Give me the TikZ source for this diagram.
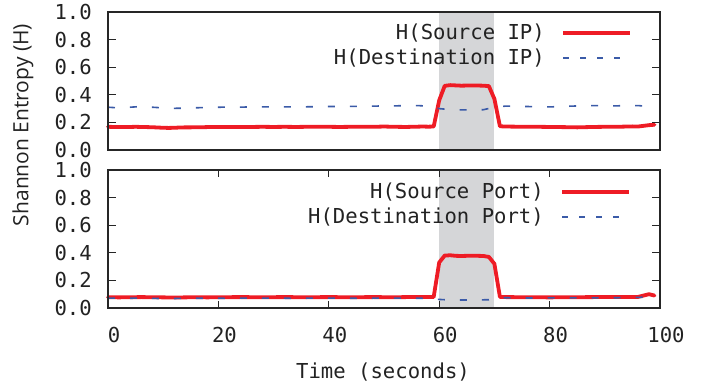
\documentclass[tikz,border=0pt]{standalone}
\usepackage{fontspec}
\setmonofont{DejaVu Sans Mono}
\newfontfamily\ylabfont{Open Sans}
\definecolor{redc}{HTML}{EE1C25}
\definecolor{bluec}{HTML}{3B5BA8}
\definecolor{shadec}{HTML}{D5D6D8}
\definecolor{framec}{HTML}{262626}
\definecolor{textc}{HTML}{222222}
\tikzset{
  boxframe/.style={draw=framec, line width=1.5pt},
  tickmark/.style={draw=framec, line width=0.9pt},
  srcline/.style={draw=redc, line width=3.8pt, line join=round, line cap=round},
  dstline/.style={draw=bluec, line width=1.6pt, dash pattern=on 7pt off 15pt},
  legdst/.style={draw=bluec, line width=1.6pt, dash pattern=on 6pt off 11pt},
  monotext/.style={text=textc, font=\ttfamily\fontsize{20.6}{22}\selectfont, inner sep=0pt},
  ticklab/.style={monotext, anchor=east},
  xticklab/.style={monotext, anchor=center},
  leglab/.style={monotext, anchor=east},
}
\begin{document}
\begin{tikzpicture}[x=1pt,y=1pt]
\useasboundingbox (0,0) rectangle (706,385);

% ---------- top panel ----------
\begin{scope}[shift={(108,235)}, x=5.52pt, y=138pt]
  \fill[shadec] (60,0) rectangle (70,1);
  \draw[srcline] plot coordinates {(0,.168)(1,.167)(2,.167)(3,.166)(4,.167)(5,.168)(6,.167)(7,.166)(8,.165)(9,.163)(10,.161)(11,.160)(12,.161)(13,.163)(14,.164)(15,.164)(16,.165)(17,.165)(18,.166)(19,.166)(20,.167)(22,.166)(24,.167)(26,.167)(28,.168)(30,.167)(32,.168)(34,.167)(36,.168)(38,.169)(40,.168)(42,.167)(44,.168)(46,.169)(48,.168)(50,.170)(52,.168)(54,.167)(56,.169)(57,.170)(58,.169)(59,.170)(60,.36)(61,.465)(62,.47)(63,.468)(64,.466)(65,.467)(66,.468)(67,.467)(68,.466)(69,.463)(70,.37)(71,.172)(72,.170)(74,.169)(76,.168)(78,.168)(80,.167)(82,.166)(84,.165)(85,.164)(86,.165)(88,.167)(90,.168)(92,.168)(94,.170)(95,.171)(96,.170)(97,.175)(98,.18)(99,.183)};
  \draw[dstline] plot coordinates {(0,.31)(2,.305)(4,.31)(6,.315)(8,.31)(10,.305)(12,.302)(14,.303)(16,.306)(18,.308)(20,.31)(24,.311)(28,.312)(32,.312)(36,.313)(40,.315)(44,.316)(48,.318)(52,.32)(56,.322)(58,.318)(60,.30)(62,.292)(66,.29)(68,.292)(70,.31)(72,.318)(76,.315)(80,.312)(84,.318)(88,.322)(92,.32)(96,.322)(98,.315)(99,.30)};
  \foreach \v in {0.2,0.4,0.6,0.8}{
    \draw[tickmark] (0,\v) -- ++(8pt,0);
    \draw[tickmark] (100,\v) -- ++(-8pt,0);
  }
  \foreach \v/\l in {0/0.0,0.2/0.2,0.4/0.4,0.6/0.6,0.8/0.8,1/1.0}{
    \node[ticklab] (ty\l) at ([xshift=-16pt]0,\v) {\l};
  }
  \draw[boxframe] (0,0) rectangle (100,1);
\end{scope}
\node[leglab] (legA) at (545,352) {H(Source IP)};
\coordinate (legAa) at (563,352);
\coordinate (legAb) at (630,352);
\draw[srcline, line cap=butt] (legAa) -- (legAb);
\node[leglab] (legB) at (545,327) {H(Destination IP)};
\coordinate (legBa) at (563,327);
\coordinate (legBb) at (630,327);
\draw[legdst] (legBa) -- (legBb);

% ---------- bottom panel ----------
\begin{scope}[shift={(108,77)}, x=5.52pt, y=138pt]
  \fill[shadec] (60,0) rectangle (70,1);
  \draw[srcline] plot coordinates {(0,.078)(2,.077)(4,.078)(6,.079)(8,.078)(10,.077)(12,.076)(14,.077)(16,.078)(18,.077)(20,.078)(24,.079)(28,.078)(32,.079)(36,.078)(40,.079)(44,.078)(48,.079)(52,.078)(56,.080)(58,.079)(59,.08)(60,.33)(61,.38)(62,.382)(63,.378)(64,.377)(65,.378)(66,.379)(67,.378)(68,.377)(69,.37)(70,.32)(71,.08)(72,.079)(76,.078)(80,.077)(84,.078)(88,.079)(92,.080)(96,.080)(97,.09)(98,.10)(99,.09)};
  \draw[dstline] plot coordinates {(0,.072)(3,.07)(6,.072)(10,.068)(14,.07)(18,.071)(22,.07)(26,.072)(30,.071)(34,.07)(38,.072)(42,.071)(46,.07)(50,.072)(54,.071)(58,.07)(60,.062)(62,.058)(66,.058)(69,.06)(71,.075)(74,.073)(78,.072)(82,.074)(86,.073)(90,.074)(94,.075)(97,.078)(99,.08)};
  \foreach \v in {0.2,0.4,0.6,0.8}{
    \draw[tickmark] (0,\v) -- ++(8pt,0);
    \draw[tickmark] (100,\v) -- ++(-8pt,0);
  }
  \foreach \t in {20,40,60,80}{
    \draw[tickmark] (\t,0) -- ++(0,7pt);
    \draw[tickmark] (\t,1) -- ++(0,-7pt);
  }
  \foreach \v/\l in {0/0.0,0.2/0.2,0.4/0.4,0.6/0.6,0.8/0.8,1/1.0}{
    \node[ticklab] (by\l) at ([xshift=-16pt]0,\v) {\l};
  }
  \foreach \t in {0,20,40,60,80,100}{
    \node[xticklab] (bx\t) at ([xshift=6pt,yshift=-27pt]\t,0) {\t};
  }
  \draw[boxframe] (0,0) rectangle (100,1);
\end{scope}
\node[leglab] (legC) at (544,193) {H(Source Port)};
\coordinate (legCa) at (562,193);
\coordinate (legCb) at (629,193);
\draw[srcline, line cap=butt] (legCa) -- (legCb);
\node[leglab] (legD) at (544,168) {H(Destination Port)};
\coordinate (legDa) at (562,168);
\coordinate (legDb) at (629,168);
\draw[legdst] (legDa) -- (legDb);

% ---------- axis labels ----------
\node[monotext] (xlab) at (383,13) {Time (seconds)};
\node[text=textc, font=\ylabfont\fontsize{21}{23}\selectfont, rotate=90, inner sep=0pt] (ylab) at (23,260) {Shannon Entropy (H)};
\end{tikzpicture}
\end{document}
